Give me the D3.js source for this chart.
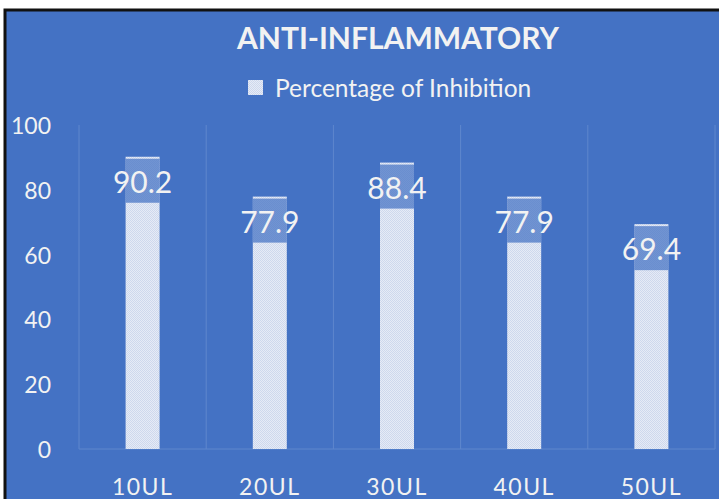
<!DOCTYPE html>
<html lang="en">
<head>
  <meta charset="utf-8">
  <title>anti-inflammatory</title>
  <style>
    body { margin: 0; background: #fff; }
    svg text { font-family: Lato, "Open Sans", sans-serif; fill: #f2f2f2; }
  </style>
</head>
<body>
  <script src="https://cdn.jsdelivr.net/npm/d3@7/dist/d3.min.js"></script>
  <script>
    var categories = ["10UL", "20UL", "30UL", "40UL", "50UL"]
    var values = [90.2, 77.9, 88.4, 77.9, 69.4]
    var yTicks = [0, 20, 40, 60, 80, 100]

    var w = 719, h = 499
    var bg = "#4472c4"

    var svg = d3.select("body").append("svg")
      .attr("width", w)
      .attr("height", h)

    // dotted bar fill
    var defs = svg.append("defs")
    var pat = defs.append("pattern")
      .attr("id", "dots")
      .attr("width", 2).attr("height", 2)
      .attr("patternUnits", "userSpaceOnUse")
    pat.append("rect").attr("width", 2).attr("height", 2).attr("fill", "#e6ebf6")
    pat.append("rect").attr("width", 1).attr("height", 1).attr("fill", "#ced8ed")
    pat.append("rect").attr("x", 1).attr("y", 1).attr("width", 1).attr("height", 1).attr("fill", "#ced8ed")

    // chart frame
    svg.append("rect")
      .attr("x", 5).attr("y", 10)
      .attr("width", w + 10).attr("height", h + 10)
      .attr("fill", bg)
      .attr("stroke", "#111")
      .attr("stroke-width", 3)

    var x = d3.scaleBand().domain(categories).range([79, 715])
    var y = d3.scaleLinear().domain([0, 100]).range([449, 125])

    // vertical gridlines
    var edges = categories.map(function(c) { return x(c) }).concat([x.range()[1]])
    svg.selectAll(".grid").data(edges).enter().append("line")
      .attr("x1", function(d) { return d }).attr("x2", function(d) { return d })
      .attr("y1", y(100)).attr("y2", y(0))
      .attr("stroke", "#5f87cd").attr("stroke-width", 1)
    svg.append("line")
      .attr("x1", 79).attr("x2", 715)
      .attr("y1", y(0)).attr("y2", y(0))
      .attr("stroke", "#5f87cd")

    var bw = 34
    var bars = svg.selectAll(".bar").data(values).enter().append("g")
    bars.append("rect")
      .attr("x", function(d, i) { return x(categories[i]) + x.bandwidth() / 2 - bw / 2 })
      .attr("y", function(d) { return y(d) })
      .attr("width", bw)
      .attr("height", function(d) { return y(0) - y(d) })
      .attr("fill", "url(#dots)")
    // label background band
    bars.append("rect")
      .attr("x", function(d, i) { return x(categories[i]) + x.bandwidth() / 2 - bw / 2 })
      .attr("y", function(d) { return y(d) + 2 })
      .attr("width", bw)
      .attr("height", 44)
      .attr("fill", bg).attr("opacity", 0.72)
    bars.append("text")
      .attr("x", function(d, i) { return x(categories[i]) + x.bandwidth() / 2 })
      .attr("y", function(d) { return y(d) + 24 })
      .attr("text-anchor", "middle")
      .attr("dominant-baseline", "central")
      .style("font-size", "30px")
      .text(function(d) { return d.toFixed(1) })

    // y axis labels
    svg.selectAll(".yt").data(yTicks).enter().append("text")
      .attr("x", 51)
      .attr("y", function(d) { return y(d) })
      .attr("text-anchor", "end")
      .attr("dominant-baseline", "central")
      .style("font-size", "23px")
      .text(function(d) { return d })

    // x axis labels
    svg.selectAll(".xt").data(categories).enter().append("text")
      .attr("x", function(d) { return x(d) + x.bandwidth() / 2 })
      .attr("y", 486)
      .attr("text-anchor", "middle")
      .attr("dominant-baseline", "central")
      .style("font-size", "23px")
      .style("letter-spacing", "1.5px")
      .text(function(d) { return d })

    svg.append("text")
      .attr("x", 398).attr("y", 37)
      .attr("text-anchor", "middle")
      .attr("dominant-baseline", "central")
      .style("font-size", "30px").style("font-weight", "bold")
      .text("ANTI-INFLAMMATORY")

    // legend
    svg.append("rect")
      .attr("x", 248).attr("y", 80).attr("width", 15).attr("height", 15)
      .attr("fill", "url(#dots)")
    svg.append("text")
      .attr("x", 275).attr("y", 87)
      .attr("dominant-baseline", "central")
      .style("font-size", "24.5px")
      .text("Percentage of Inhibition")
  </script>
</body>
</html>
